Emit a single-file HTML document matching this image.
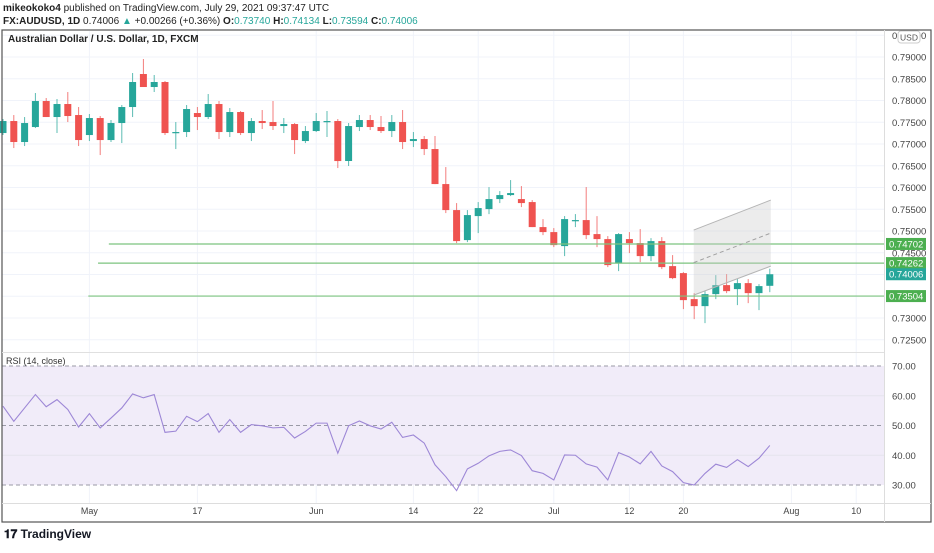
<!DOCTYPE html>
<html><head><meta charset="utf-8">
<style>
body{margin:0;background:#fff;width:934px;height:548px;overflow:hidden;font-family:"Liberation Sans",sans-serif;}
svg text{font-family:"Liberation Sans",sans-serif;}
</style></head>
<body>
<svg id="c" width="934" height="548">
<text x="3" y="11" font-size="10" fill="#222"><tspan font-weight="bold">mikeokoko4</tspan> published on TradingView.com, July 29, 2021 09:37:47 UTC</text>
<text x="3" y="24" font-size="10" fill="#222"><tspan font-weight="bold">FX:AUDUSD, 1D</tspan> 0.74006 <tspan fill="#26a69a">▲</tspan> +0.00266 (+0.36%) <tspan font-weight="bold">O:</tspan><tspan fill="#26a69a">0.73740</tspan> <tspan font-weight="bold">H:</tspan><tspan fill="#26a69a">0.74134</tspan> <tspan font-weight="bold">L:</tspan><tspan fill="#26a69a">0.73594</tspan> <tspan font-weight="bold">C:</tspan><tspan fill="#26a69a">0.74006</tspan></text>
<g id="grid"></g>
<g id="rsibg"></g>
<g id="marks"></g>
<g id="axt"></g>
<g id="over"></g>
<rect x="2" y="30" width="929" height="492" fill="none" stroke="#555" stroke-width="1.2"/>
<line x1="884.5" y1="30" x2="884.5" y2="522" stroke="#ddd"/>
<line x1="2" y1="503.5" x2="931" y2="503.5" stroke="#ddd"/>
<line x1="2" y1="352.5" x2="884" y2="352.5" stroke="#e0e0e0"/>
<text x="8" y="42" font-size="10" font-weight="bold" fill="#222">Australian Dollar / U.S. Dollar, 1D, FXCM</text>
<text x="6" y="364" font-size="9" fill="#333">RSI (14, close)</text>
<text x="4" y="538" font-size="12" font-weight="bold" fill="#131722">𝟏𝟕 TradingView</text>
</svg>
<script>
const opens=[.77252,.77528,.77045,.77390,.77988,.77620,.77919,.77666,.77206,.77597,.77091,.77482,.77850,.78609,.78310,.78425,.77252,.77275,.77712,.77620,.77919,.77275,.77735,.77252,.77528,.77505,.77413,.77459,.77068,.77298,.77505,.77528,.76609,.77390,.77551,.77390,.77298,.77505,.77068,.77114,.76884,.76079,.75481,.74791,.75343,.75504,.75734,.75826,.75734,.75665,.75090,.74975,.74653,.75228,.75251,.74929,.74814,.74262,.74814,.74722,.74423,.74768,.74193,.74032,.73434,.73273,.73549,.73756,.73664,.73802,.73572,.73740];
const highs=[.77574,.77666,.77620,.78172,.78057,.78034,.78195,.77850,.77689,.77643,.77551,.77896,.78632,.78954,.78586,.78448,.77505,.77896,.77850,.78149,.77988,.77827,.77758,.77597,.77781,.77988,.77597,.77482,.77413,.77712,.77758,.77574,.77482,.77666,.77666,.77643,.77666,.77781,.77275,.77183,.77183,.76470,.75642,.75481,.75665,.76010,.75918,.76171,.76033,.75711,.75274,.75067,.75343,.75389,.76010,.75343,.74883,.74952,.74975,.75044,.74837,.74860,.74446,.74055,.73572,.73618,.73986,.74009,.73894,.73894,.73779,.74134];
const lows=[.77206,.76907,.76953,.77367,.77620,.77252,.77505,.76953,.77068,.76746,.77045,.77022,.77620,.78310,.78195,.77206,.76884,.77160,.77321,.77574,.77114,.77160,.77206,.77068,.77344,.77321,.77252,.76769,.77022,.77275,.77160,.76447,.76494,.77298,.77321,.77252,.77160,.76884,.76930,.76746,.76079,.75412,.74722,.74745,.74952,.75389,.75642,.75803,.75550,.75090,.74906,.74630,.74423,.75090,.74814,.74630,.74170,.74078,.74492,.74285,.74308,.74124,.73894,.73204,.72974,.72882,.73434,.73572,.73296,.73342,.73181,.73594];
const closes=[.77528,.77045,.77482,.77988,.77620,.77919,.77643,.77091,.77597,.77091,.77482,.77850,.78425,.78310,.78425,.77252,.77275,.77804,.77620,.77919,.77275,.77735,.77252,.77528,.77482,.77413,.77459,.77091,.77298,.77528,.77528,.76608,.77413,.77551,.77390,.77298,.77505,.77045,.77114,.76884,.76079,.75481,.74768,.75366,.75527,.75734,.75826,.75872,.75642,.75090,.74975,.74676,.75274,.75251,.74906,.74814,.74216,.74929,.74722,.74423,.74768,.74170,.73917,.73411,.73273,.73549,.73756,.73618,.73802,.73572,.73733,.74006];
const rsiValues=[56.5,51.4,55.9,60.4,56.3,58.7,55.4,49.5,54,49.2,52.5,55.9,60.6,59.3,60.4,47.7,48.1,53.1,51.3,54,47.7,52,47.7,50.3,49.9,49.2,49.4,45.8,48,50.8,50.8,40.7,49.9,51.5,49.9,48.8,51.1,46,46.8,44.1,36.8,32.8,28.1,35.4,37.3,39.8,41.3,41.8,39.9,34.8,33.9,31.7,40.1,40,37.1,36,31.7,40.9,39.4,37.1,41.3,36.4,34.5,30.8,30,33.9,37,35.9,38.5,36.2,39,43.3];
const priceTicks=[0.725,0.73,0.735,0.74,0.745,0.75,0.755,0.76,0.765,0.77,0.775,0.78,0.785,0.79,0.795];
const rsiTicks=[30,40,50,60,70];
const dateLabels=["May","17","Jun","14","22","Jul","12","20","Aug","10"];
const dateIdx=[8,18,29,38,44,51,58,63,73,79];
const levelPrices=[0.74702,0.74262,0.73504];
const levelStartIdx=[9.8,8.8,7.9];
const channelIdx=[64,71];
const channelLower=[0.73526,0.74193];
const channelUpper=[0.75021,0.75711];

const NS="http://www.w3.org/2000/svg";
function mk(tag,attrs,parent){const e=document.createElementNS(NS,tag);for(const k in attrs)e.setAttribute(k,attrs[k]);parent.appendChild(e);return e;}
const xs=i=>3+i*10.8;
const yp=p=>57+(0.79-p)/0.005*21.75;
const yr=v=>366+(70-v)*2.975;
const grid=document.getElementById('grid'),rb=document.getElementById('rsibg'),marks=document.getElementById('marks'),over=document.getElementById('over'),axt=document.getElementById('axt');

priceTicks.forEach(p=>{const y=yp(p);
 if(y>31&&y<352){const l=mk('line',{x1:2,x2:884,y1:y,y2:y,stroke:'#f0f3fa'},grid);
 
 }
 const t=mk('text',{x:892,y:y+3.5,'font-size':9.5,fill:'#444'},axt);t.textContent=p.toFixed(5);
 
 
});
dateIdx.forEach((d,k)=>{const x=xs(d);
 const l=mk('line',{x1:x,x2:x,y1:31,y2:503,stroke:'#f0f3fa'},grid);
 
 
 const t=mk('text',{x:x,y:514,'font-size':9,fill:'#444','text-anchor':'middle'},axt);t.textContent=dateLabels[k];
 
 
});
const bg=mk('rect',{x:2,y:yr(70),width:882,height:yr(30)-yr(70),fill:'#f1ecf9'},rb);


rsiTicks.forEach(v=>{const y=yr(v);
 const dashed=(v===30||v===50||v===70);
 const l=mk('line',{x1:2,x2:884,y1:y,y2:y,stroke:dashed?'#9a9aa6':'#e6e3ee','stroke-dasharray':dashed?'4,3':'none'},rb);
 
 
 const t=mk('text',{x:892,y:y+3.5,'font-size':9.5,fill:'#444'},axt);t.textContent=v.toFixed(2);
 
 
});
levelPrices.forEach((p,k)=>{const y=yp(p);
 const l=mk('line',{x1:xs(levelStartIdx[k]),x2:884,y1:y,y2:y,stroke:'#7cc47f','stroke-width':1.2},over);
 
 
 const r=mk('rect',{x:886,y:y-6,width:40,height:12,fill:'#4caf50'},over);
 
 
 const t=mk('text',{x:889,y:y+3.5,'font-size':9.5,fill:'#fff'},over);t.textContent=p.toFixed(5);
 
 
});
const cx0=xs(channelIdx[0])-0.5,cx1=xs(channelIdx[1])+1;
const poly=mk('polygon',{points:`${cx0},${yp(channelLower[0])} ${cx1},${yp(channelLower[1])} ${cx1},${yp(channelUpper[1])} ${cx0},${yp(channelUpper[0])}`,fill:'rgba(200,200,200,0.35)',stroke:'none'},over);


[channelLower,channelUpper].forEach(a=>{
 const l=mk('line',{x1:cx0,y1:yp(a[0]),x2:cx1,y2:yp(a[1]),stroke:'#b5b5b5'},over);
 
 
});
const ml=mk('line',{x1:cx0,y1:yp((channelLower[0]+channelUpper[0])/2),x2:cx1,y2:yp((channelLower[1]+channelUpper[1])/2),stroke:'#a0a0a0','stroke-dasharray':'4,3'},over);


for(let i=0;i<opens.length;i++){
 const up=closes[i]>=opens[i];const col=up?'#26a69a':'#ef5350';const x=xs(i);
 const w=mk('line',{x1:x,x2:x,y1:yp(highs[i]),y2:yp(lows[i]),stroke:col,'stroke-opacity':0.75},marks);
 
 
 const t=yp(Math.max(opens[i],closes[i])),b=yp(Math.min(opens[i],closes[i]));
 const r=mk('rect',{x:x-3.5,y:t,width:7,height:Math.max(1.2,b-t),fill:col},marks);
 
 
}
const ly=yp(closes[closes.length-1]);
const lr=mk('rect',{x:886,y:ly-6,width:40,height:12,fill:'#26a69a'},over);


const lt=mk('text',{x:889,y:ly+3.5,'font-size':9.5,fill:'#fff'},over);lt.textContent=closes[closes.length-1].toFixed(5);


const pl=mk('polyline',{points:rsiValues.map((v,i)=>`${xs(i)},${yr(v)}`).join(' '),fill:'none',stroke:'#9d87d6','stroke-width':1.1},marks);


const ub=mk('rect',{x:898,y:31,width:22,height:12,rx:3,fill:'#fff',stroke:'#ccc'},over);


const ut=mk('text',{x:909,y:40.5,'font-size':8.5,fill:'#555','text-anchor':'middle'},over);ut.textContent='USD';


</script>
</body></html>
